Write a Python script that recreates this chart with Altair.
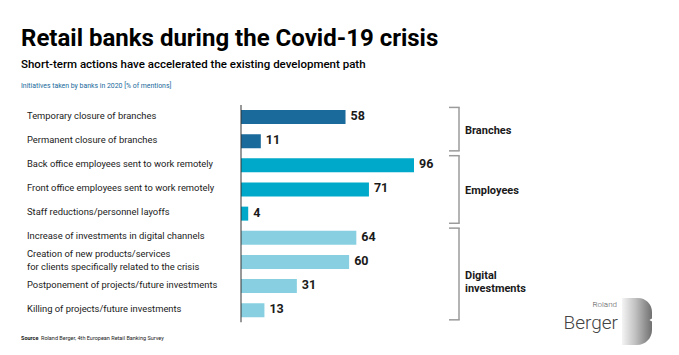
import altair as alt
import pandas as pd

categories = [
    "Temporary closure of branches",
    "Permanent closure of branches",
    "Back office employees sent to work remotely",
    "Front office employees sent to work remotely",
    "Staff reductions/personnel layoffs",
    "Increase of investments in digital channels",
    "Creation of new products/services\nfor clients specifically related to the crisis",
    "Postponement of projects/future investments",
    "Killing of projects/future investments",
]
values = [58, 11, 96, 71, 4, 64, 60, 31, 13]
groups = ["Branches", "Branches", "Employees", "Employees", "Employees",
          "Digital\ninvestments", "Digital\ninvestments", "Digital\ninvestments", "Digital\ninvestments"]
group_names = ["Branches", "Employees", "Digital\ninvestments"]
group_colors = ["#1a6a9b", "#00a9c9", "#88cfe1"]

title = "Retail banks during the Covid-19 crisis"
subtitle = "Short-term actions have accelerated the existing development path"
note = "Initiatives taken by banks in 2020 [% of mentions]"
source_bold = "Source"
source_text = "Roland Berger, 4th European Retail Banking Survey"

FONT = "Roboto, sans-serif"

df = pd.DataFrame({
    "cat": categories,
    "value": values,
    "group": groups,
    "idx": list(range(len(categories))),
})

# one row per label line, centred on the category's row
line_rows = []
for i, c in enumerate(categories):
    parts = c.split("\n")
    n = len(parts)
    for k, p in enumerate(parts):
        line_rows.append({"line": p, "pos": i + (k - (n - 1) / 2) * 0.52})
lines = pd.DataFrame(line_rows)

# bracket table derived from groups
rows = []
for g in group_names:
    ids = [i for i, gg in enumerate(groups) if gg == g]
    rows.append({"group": g, "top": min(ids) - 0.4, "bottom": max(ids) + 0.4,
                 "mid": (min(ids) + max(ids)) / 2})
br = pd.DataFrame(rows)

xscale = alt.Scale(domain=[0, 96], range=[241, 414])
yscale = alt.Scale(domain=[-0.5, len(categories) - 0.5], range=[100, 327.25])
cscale = alt.Scale(domain=group_names, range=group_colors)

X = lambda f: alt.X(f, scale=xscale, axis=None)
Y = lambda f: alt.Y(f, scale=yscale, axis=None)

base = alt.Chart(df)

bars = base.mark_bar(orient="horizontal", size=14).encode(
    x=X("value:Q"), y=Y("idx:Q"),
    color=alt.Color("group:N", scale=cscale, legend=None),
)

vals = base.mark_text(align="left", baseline="middle", dx=5, dy=-1, fontSize=12.5,
                      fontWeight="bold", font=FONT, color="#1a1a1a").encode(
    x=X("value:Q"), y=Y("idx:Q"), text="value:Q")

labels = alt.Chart(lines).mark_text(align="left", baseline="middle", fontSize=9.4, font=FONT,
                                    color="#1a1a1a", dy=-1.5).encode(
    x=alt.value(27), y=Y("pos:Q"), text="line:N")

axis_line = alt.Chart(pd.DataFrame({"a": [0]})).mark_rule(color="#333333", strokeWidth=1).encode(
    x=alt.X(datum=0, scale=xscale, axis=None),
    y=alt.Y(datum=-0.5, scale=yscale, axis=None),
    y2=alt.Y2(datum=len(categories) - 0.5),
)

bchart = alt.Chart(br)
bvert = bchart.mark_rule(color="#9b9b9b", strokeWidth=1.5).encode(
    x=alt.value(459), y=Y("top:Q"), y2="bottom:Q")
btop = bchart.mark_rule(color="#9b9b9b", strokeWidth=1.5).encode(
    x=alt.value(449), x2=alt.value(459.75), y=Y("top:Q"))
bbot = bchart.mark_rule(color="#9b9b9b", strokeWidth=1.5).encode(
    x=alt.value(449), x2=alt.value(459.75), y=Y("bottom:Q"))
blab = bchart.mark_text(align="left", baseline="middle", fontSize=11, fontWeight="bold",
                        font=FONT, color="#1a1a1a", lineBreak="\n", lineHeight=13, dy=2).encode(
    x=alt.value(465), y=Y("mid:Q"), text="group:N")

one = alt.Chart(pd.DataFrame({"a": [0]}))
t_title = one.mark_text(align="left", baseline="alphabetic", fontSize=24, fontWeight="bold",
                        font=FONT, color="#000000").encode(
    x=alt.value(21), y=alt.value(46), text=alt.value(title))
t_sub = one.mark_text(align="left", baseline="alphabetic", fontSize=11.5, fontWeight=500,
                      font=FONT, color="#000000").encode(
    x=alt.value(21), y=alt.value(68), text=alt.value(subtitle))
t_note = one.mark_text(align="left", baseline="alphabetic", fontSize=6.9,
                       font=FONT, color="#1a6a9b").encode(
    x=alt.value(21), y=alt.value(88), text=alt.value(note))
t_src1 = one.mark_text(align="left", baseline="alphabetic", fontSize=5.5, fontWeight="bold",
                       font=FONT, color="#1a1a1a").encode(
    x=alt.value(21), y=alt.value(340), text=alt.value(source_bold))
t_src2 = one.mark_text(align="left", baseline="alphabetic", fontSize=5.5,
                       font=FONT, color="#1a1a1a").encode(
    x=alt.value(41), y=alt.value(340), text=alt.value(source_text))

logo_b = one.mark_rect(
    cornerRadiusTopRight=14, cornerRadiusBottomRight=18,
    color=alt.Gradient(gradient="linear", x1=0, x2=1, y1=0, y2=0,
                       stops=[alt.GradientStop(color="#f4f4f4", offset=0),
                              alt.GradientStop(color="#c0c0c0", offset=0.45),
                              alt.GradientStop(color="#707070", offset=1)])).encode(
    x=alt.value(622), x2=alt.value(652), y=alt.value(298), y2=alt.value(345))
logo_notch = one.mark_point(shape="triangle-left", filled=True, color="white", opacity=1,
                            size=70).encode(x=alt.value(653), y=alt.value(320))
logo_r = one.mark_text(align="right", baseline="alphabetic", fontSize=8,
                       font=FONT, fontWeight=300, color="#555555").encode(
    x=alt.value(617), y=alt.value(307), text=alt.value("Roland"))
logo_g = one.mark_text(align="right", baseline="alphabetic", fontSize=19,
                       font=FONT, fontWeight=300, color="#444444").encode(
    x=alt.value(618), y=alt.value(329), text=alt.value("Berger"))

chart = alt.layer(
    bars, vals, labels, axis_line, bvert, btop, bbot, blab,
    t_title, t_sub, t_note, t_src1, t_src2, logo_b, logo_notch, logo_r, logo_g,
).properties(
    width=679, height=355, padding=0,
    autosize=alt.AutoSizeParams(type="none"),
    background="white",
).configure_view(stroke=None)

chart.save("out.html", embed_options={"renderer": "svg", "actions": False})
